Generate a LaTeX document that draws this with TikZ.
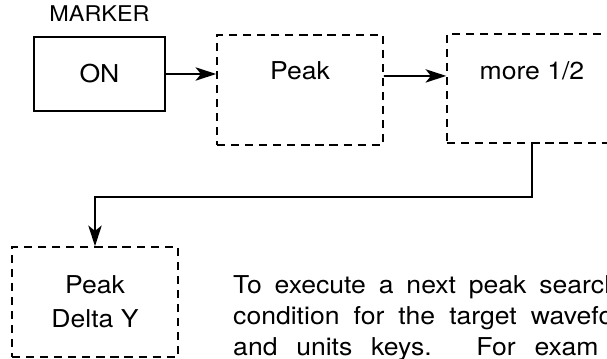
\documentclass[tikz,border=0pt]{standalone}
\usepackage{fontspec}
\setmainfont[FakeStretch=1.08]{TeX Gyre Heros}
\usetikzlibrary{positioning, arrows.meta}

\begin{document}
\begin{tikzpicture}[x=0.03cm, y=-0.03cm,
    solidbox/.style = {rectangle, draw, line width=1.6pt, inner sep=0pt, font=\fontsize{21}{25}\selectfont},
    % dashed soft-key boxes
    dashbox/.style  = {rectangle, draw, line width=1.3pt, dash pattern=on 7pt off 5pt, inner sep=0pt, font=\fontsize{21}{25}\selectfont},
    caption/.style  = {inner sep=0pt, font=\fontsize{18.5}{22}\selectfont},
    body/.style     = {anchor=base west, inner sep=0pt, font=\fontsize{21}{25}\selectfont, execute at begin node={\spaceskip=#1\relax}},
    arrow/.style    = {draw, line width=1.5pt, -{Stealth[length=0.62cm, width=0.4cm, inset=0.16cm]}}
  ]
  \useasboundingbox (0,0) rectangle (607,358);
  \clip (0,0) rectangle (607,358);

  \node[solidbox, minimum width=3.93cm, minimum height=2.22cm] (on) at (99.5,74) {ON};
  \node[caption, above=0.43cm of on] (marker) {MARKER};

  \node[dashbox, minimum width=4.98cm, text height=1.32cm, text depth=1.98cm] (peak) at (300,90) {Peak};
  \node[dashbox, minimum width=5.1cm, text height=1.35cm, text depth=1.92cm] (more) at (532,88.5) {more 1/2};
  \node[dashbox, minimum width=4.98cm, minimum height=3.3cm, align=center, font=\fontsize{21}{29}\selectfont] (delta) at (95,302) {Peak\\Delta Y};

  % text beside the last box, cut off by the page edge
  \node[body=11pt] (txt1) at (233,293) {To execute a next peak search};
  \node[body=12pt] (txt2) at (233,324) {condition for the target wavefo};
  \node[body=16pt] (txt3) at (233,355) {and units keys.\hspace{20pt} For exam};

  % Arrows
  \draw[arrow] (on.east) -- (on.east -| peak.west);
  \draw[arrow] (peak.mid east) -- (more.mid west);
  \draw[arrow] (more.south) -- ++(0,53) -| (delta.north);

\end{tikzpicture}
\end{document}
